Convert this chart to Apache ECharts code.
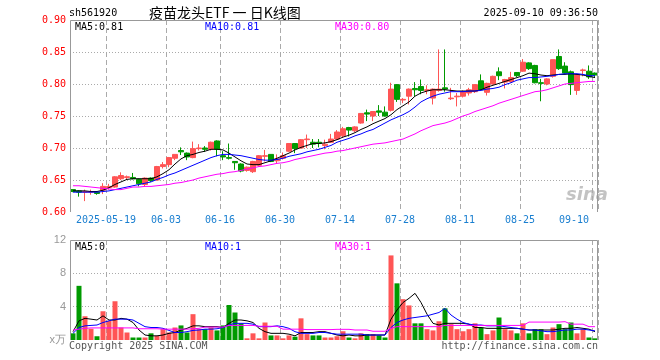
<!DOCTYPE html>
<html><head><meta charset="utf-8">
<script src="https://cdn.jsdelivr.net/npm/echarts@6/dist/echarts.min.js"></script>
<style>html,body{margin:0;padding:0;background:#fff}#c{width:660px;height:360px}</style>
</head><body><div id="c"></div>
<script>
const dates = [
'2025-05-09','2025-05-12','2025-05-13','2025-05-14','2025-05-15','2025-05-16','2025-05-19','2025-05-20','2025-05-21','2025-05-22','2025-05-23','2025-05-26','2025-05-27','2025-05-28','2025-05-29','2025-05-30',
'2025-06-03','2025-06-04','2025-06-05','2025-06-06','2025-06-09','2025-06-10','2025-06-11','2025-06-12','2025-06-13','2025-06-16','2025-06-17','2025-06-18','2025-06-19','2025-06-20','2025-06-23','2025-06-24','2025-06-25','2025-06-26','2025-06-27','2025-06-30',
'2025-07-01','2025-07-02','2025-07-03','2025-07-04','2025-07-07','2025-07-08','2025-07-09','2025-07-10','2025-07-11','2025-07-14','2025-07-15','2025-07-16','2025-07-17','2025-07-18','2025-07-21','2025-07-22','2025-07-23','2025-07-24','2025-07-25','2025-07-28','2025-07-29','2025-07-30','2025-07-31',
'2025-08-01','2025-08-04','2025-08-05','2025-08-06','2025-08-07','2025-08-08','2025-08-11','2025-08-12','2025-08-13','2025-08-14','2025-08-15','2025-08-18','2025-08-19','2025-08-20','2025-08-21','2025-08-22','2025-08-25','2025-08-26','2025-08-27','2025-08-28','2025-08-29',
'2025-09-01','2025-09-02','2025-09-03','2025-09-04','2025-09-05','2025-09-08','2025-09-09','2025-09-10'];

const openP = [.635,.633,.631,.631,.631,.634,.638,.639,.652,.654,
 .654,.651,.643,.653,.650,.671,.674,.684,.696,.692,
 .685,.699,.700,.698,.711,.688,.685,.679,.675,.665,
 .663,.673,.687,.690,.680,.684,.695,.707,.700,.713,
 .709,.709,.704,.709,.714,.719,.732,.727,.739,.755,
 .750,.758,.756,.759,.799,.775,.781,.793,.796,.790,
 .778,.790,.794,.777,.780,.781,.786,.788,.805,.787,
 .800,.819,.803,.804,.818,.820,.833,.829,.802,.800,
 .812,.843,.828,.819,.790,.821,.820,.817];
const closeP = [.632,.631,.632,.632,.629,.640,.640,.655,.657,.655,
 .652,.644,.653,.649,.671,.674,.685,.690,.694,.686,
 .699,.700,.698,.709,.698,.686,.684,.677,.664,.670,
 .679,.688,.688,.679,.683,.688,.707,.699,.713,.714,
 .706,.707,.706,.714,.725,.730,.728,.733,.754,.753,
 .757,.756,.750,.792,.776,.776,.792,.791,.790,.791,
 .792,.792,.792,.778,.781,.788,.791,.799,.791,.801,
 .812,.813,.807,.810,.813,.834,.824,.802,.801,.808,
 .838,.824,.817,.799,.815,.822,.811,.814];
const lowP = [.631,.624,.617,.627,.627,.628,.635,.638,.650,.651,
 .651,.640,.640,.647,.649,.668,.670,.681,.689,.681,
 .684,.696,.694,.696,.687,.681,.682,.666,.662,.663,
 .661,.671,.679,.678,.676,.682,.694,.692,.699,.700,
 .700,.701,.698,.708,.713,.716,.718,.725,.738,.742,
 .742,.750,.749,.757,.772,.770,.768,.781,.784,.784,
 .768,.788,.788,.775,.765,.779,.782,.786,.789,.782,
 .799,.806,.793,.802,.811,.819,.822,.801,.773,.798,
 .810,.822,.816,.783,.783,.812,.808,.811];
const highP = [.635,.634,.635,.635,.631,.645,.644,.656,.662,.657,
 .661,.652,.654,.654,.672,.678,.686,.690,.701,.693,
 .710,.706,.703,.710,.712,.695,.707,.679,.676,.671,
 .680,.689,.697,.690,.690,.693,.707,.707,.714,.721,
 .714,.714,.713,.722,.728,.733,.733,.734,.754,.760,
 .757,.767,.765,.802,.800,.778,.793,.803,.807,.798,
 .793,.854,.854,.794,.786,.790,.794,.800,.815,.802,
 .813,.826,.808,.819,.818,.839,.834,.830,.808,.809,
 .838,.854,.834,.821,.816,.824,.829,.818];

const ma5 = [.633,.633,.633,.632,.632,.634,.638,.643,.647,.651,
 .652,.652,.652,.652,.655,.660,.666,.675,.683,.688,
 .690,.693,.695,.698,.698,.697,.692,.686,.680,.675,
 .674,.674,.677,.680,.684,.688,.692,.697,.701,.704,
 .707,.707,.708,.710,.713,.717,.720,.724,.729,.733,
 .738,.742,.746,.752,.760,.766,.772,.781,.786,.789,
 .791,.791,.791,.790,.789,.789,.789,.789,.791,.795,
 .798,.801,.804,.807,.810,.813,.817,.816,.814,.813,
 .814,.815,.815,.816,.815,.814,.812,.810];
const ma10 = [.631,.631,.631,.631,.631,.632,.633,.635,.637,.639,
 .641,.643,.645,.647,.651,.654,.658,.661,.665,.669,
 .673,.677,.681,.685,.688,.690,.690,.689,.688,.686,
 .684,.682,.681,.681,.682,.684,.687,.689,.691,.694,
 .696,.698,.701,.704,.709,.712,.715,.719,.722,.726,
 .729,.734,.739,.744,.748,.752,.757,.764,.772,.777,
 .781,.784,.786,.788,.788,.788,.789,.789,.790,.792,
 .793,.795,.799,.802,.806,.808,.810,.810,.811,.812,
 .813,.815,.816,.816,.816,.815,.813,.813];
const ma30 = [.641,.641,.640,.639,.638,.637,.636,.635,.635,.637,
 .639,.639,.640,.640,.641,.642,.643,.645,.646,.648,
 .650,.653,.655,.657,.659,.660,.662,.663,.665,.667,
 .669,.671,.672,.674,.676,.677,.679,.682,.684,.686,
 .688,.690,.692,.693,.695,.696,.698,.700,.702,.704,
 .706,.707,.708,.710,.712,.714,.718,.722,.727,.731,
 .735,.737,.739,.742,.746,.750,.753,.757,.760,.763,
 .766,.770,.773,.776,.779,.782,.785,.788,.789,.791,
 .794,.797,.800,.801,.802,.803,.804,.804];

const vol = [0.8,6.5,2.85,1.35,0.45,3.45,2.3,4.65,1.5,0.9,
 0.3,0.3,0.3,0.8,0.5,1.3,0.9,1.5,1.75,0.9,
 3.1,1.3,1.3,1.5,1.15,1.75,4.2,3.3,2.0,0.2,
 0.8,0.2,2.1,0.55,0.55,0.2,0.55,0.4,2.6,0.7,
 0.55,0.55,0.3,0.3,0.45,1.05,0.3,0.2,0.8,0.7,
 0.7,0.55,0.3,10.15,6.8,4.9,4.15,2.0,2.0,1.3,
 1.15,2.25,3.8,1.9,1.3,1.05,1.3,2.0,1.5,0.7,
 1.15,2.7,1.3,1.15,0.8,2.0,0.8,1.3,1.3,0.7,
 1.5,1.9,1.3,2.1,0.8,1.3,0.3,0.2];
const volMa5 = [1.0,2.3,2.6,2.5,2.4,2.9,2.4,2.4,2.6,2.5,
 2.1,1.2,0.6,0.5,0.5,0.6,0.8,0.9,1.2,1.4,
 1.7,1.7,1.6,1.6,1.6,1.5,2.0,2.4,2.4,2.3,
 2.1,1.4,1.0,0.8,0.8,0.8,0.7,0.5,0.9,0.9,
 0.9,1.0,1.0,0.8,0.6,0.5,0.6,0.5,0.5,0.6,
 0.6,0.6,0.6,2.5,3.6,4.5,5.0,5.6,4.5,3.1,
 2.0,1.8,2.0,2.0,2.0,2.0,1.9,1.5,1.5,1.4,
 1.4,1.4,1.4,1.4,1.4,1.3,1.2,1.2,1.2,1.2,
 1.2,1.3,1.4,1.4,1.5,1.4,1.3,1.0];
const volMa10 = [0.8,1.5,1.7,1.75,1.8,2.1,2.3,2.5,2.5,2.5,
 2.4,2.0,1.6,1.5,1.5,1.4,1.15,0.9,0.9,1.0,
 1.15,1.2,1.3,1.3,1.35,1.5,1.8,2.0,2.0,2.0,
 1.9,1.6,1.6,1.6,1.7,1.6,1.4,1.0,0.8,0.8,
 0.8,0.9,0.9,0.8,0.7,0.7,0.7,0.7,0.7,0.6,
 0.6,0.6,0.6,1.5,2.1,2.4,2.6,2.7,2.8,2.9,
 3.1,3.3,3.8,3.0,2.5,2.1,1.9,1.8,1.8,1.7,
 1.7,1.7,1.6,1.5,1.4,1.3,1.2,1.2,1.1,1.0,
 1.0,1.1,1.2,1.2,1.3,1.3,1.2,1.1];
const volMa30 = [1.2,1.3,1.4,1.45,1.45,1.45,1.45,1.45,1.45,1.45,
 1.45,1.35,1.35,1.35,1.35,1.3,1.3,1.3,1.3,1.3,
 1.35,1.4,1.55,1.55,1.55,1.55,1.75,1.75,1.75,1.75,
 1.75,1.65,1.65,1.65,1.65,1.3,1.3,1.3,1.3,1.25,
 1.25,1.25,1.25,1.25,1.28,1.28,1.28,1.2,1.2,1.2,
 1.05,1.05,1.05,1.4,1.6,1.6,1.6,1.6,1.6,1.6,
 1.6,1.6,1.75,1.75,1.75,1.75,1.75,1.75,1.75,1.75,
 1.75,1.75,1.75,1.75,1.75,1.75,2.15,2.15,2.15,2.15,
 2.15,2.15,2.2,1.9,1.9,1.9,1.6,1.6];

const tickIdx = [6,16,25,35,45,55,65,75,87];
const tickText = ['2025-05-19','06-03','06-16','06-30','07-14','07-28','08-11','08-25','09-10'];
const priceTicks = {min:0.6, max:0.9, step:0.05};
const volTicks = {min:0, max:12, step:4};

const MONO = '"DejaVu Sans Mono","Liberation Mono",monospace';
const RED = '#ff5555', GREEN = '#009a00';
const GRIDC = '#aaaaaa', FRAME = '#999999';

const candles = dates.map((d,i)=>[openP[i], closeP[i], lowP[i], highP[i]]);
const volData = vol.map((v,i)=>({value:v, itemStyle:{color: closeP[i] >= openP[i] ? RED : GREEN}}));

const showTick = (i)=> tickIdx.indexOf(i) >= 0;
const xSplit = {show:true, interval:showTick, lineStyle:{color:GRIDC, type:[5,3], width:1}};

function txt(text, left, top, color, extra){
  return Object.assign({text:text, left:left, top:top, padding:0,
    textStyle:{fontFamily:MONO, fontSize:10, lineHeight:12, fontWeight:'normal', color:color}}, extra||{});
}
function line(data, color, xi, yi){
  return {type:'line', data:data, xAxisIndex:xi, yAxisIndex:yi, symbol:'none', showSymbol:false,
    lineStyle:{color:color, width:1}, itemStyle:{color:color}, silent:true, z:3};
}

const chart = echarts.init(document.getElementById('c'), null, {renderer:'canvas'});
chart.setOption({
  animation:false,
  backgroundColor:'#ffffff',
  title:[
    txt('sh561920', 69, 7, '#000'),
    {text:'疫苗龙头ETF 一 日K线图', left:149, top:5, padding:0,
     textStyle:{fontFamily:'"Noto Sans CJK SC"', fontSize:14, lineHeight:16, fontWeight:'normal', color:'#000'}},
    Object.assign(txt('2025-09-10 09:36:50', 0, 7, '#000'), {left:null, right:62}),
    txt('MA5:' + ma5[87].toFixed(2), 75, 21, '#000'),
    txt('MA10:' + ma10[87].toFixed(2), 205, 21, '#0000ff'),
    txt('MA30:' + ma30[87].toFixed(2), 335, 21, '#ff00ff'),
    txt('MA5:0', 75, 241, '#000'),
    txt('MA10:1', 205, 241, '#0000ff'),
    txt('MA30:1', 335, 241, '#ff00ff'),
    txt('Copyright 2025 SINA.COM', 69, 340, '#555'),
    Object.assign(txt('http://finance.sina.com.cn', 0, 340, '#555'), {left:null, right:62}),
    {text:'sina', left:566, top:186, padding:0,
     textStyle:{fontFamily:'"DejaVu Sans"', fontSize:18, fontStyle:'italic', fontWeight:'bold', color:'rgba(170,170,170,0.7)'}}
  ],
  grid:[
    {left:70, top:20, width:528, height:192},
    {left:70, top:240, width:528, height:100}
  ],
  xAxis:[
    {type:'category', gridIndex:0, data:dates, boundaryGap:true,
     axisLine:{show:false}, axisTick:{show:false},
     axisLabel:{interval:showTick, formatter:(v,i)=>tickText[tickIdx.indexOf(i)],
       color:'#1a7fd0', fontFamily:MONO, fontSize:10, margin:3, padding:[0,6,0,0], alignMaxLabel:'right'},
     splitLine:xSplit},
    {type:'category', gridIndex:1, data:dates, boundaryGap:true,
     axisLine:{show:false}, axisTick:{show:false}, axisLabel:{show:false},
     splitLine:xSplit}
  ],
  yAxis:[
    {type:'value', gridIndex:0, min:priceTicks.min, max:priceTicks.max, interval:priceTicks.step,
     axisLine:{show:false}, axisTick:{show:false},
     axisLabel:{color:'#ff0000', fontFamily:MONO, fontSize:10, margin:4, formatter:v=>v.toFixed(2)},
     splitLine:{show:true, showMinLine:false, showMaxLine:false, lineStyle:{color:GRIDC, type:[1,2], width:1}}},
    {type:'value', gridIndex:1, min:volTicks.min, max:volTicks.max, interval:volTicks.step,
     axisLine:{show:false}, axisTick:{show:false},
     axisLabel:{color:'#999', fontFamily:'"Liberation Sans",Arial,sans-serif', fontSize:11, margin:4,
       formatter:v=> v===0 ? 'x万' : String(v)},
     splitLine:{show:true, showMinLine:false, showMaxLine:false, lineStyle:{color:GRIDC, type:[1,2], width:1}}}
  ],
  graphic:[
    {type:'polyline', silent:true, z:10, shape:{points:[[70.5,212],[70.5,20.5],[597.5,20.5],[597.5,212]]},
     style:{stroke:FRAME, fill:null, lineWidth:1}},
    {type:'polyline', silent:true, z:10, shape:{points:[[70.5,340],[70.5,240.5],[597.5,240.5],[597.5,340]]},
     style:{stroke:FRAME, fill:null, lineWidth:1}}
  ],
  series:[
    {type:'candlestick', xAxisIndex:0, yAxisIndex:0, data:candles, barWidth:5,
     itemStyle:{color:RED, color0:GREEN, borderColor:RED, borderColor0:GREEN, borderWidth:1}, silent:true},
    line(ma5, '#000000', 0, 0),
    line(ma10, '#0000ff', 0, 0),
    line(ma30, '#ff00ff', 0, 0),
    {type:'bar', xAxisIndex:1, yAxisIndex:1, data:volData, barWidth:5, silent:true},
    line(volMa5, '#000000', 1, 1),
    line(volMa10, '#0000ff', 1, 1),
    line(volMa30, '#ff00ff', 1, 1)
  ]
});
</script></body></html>
